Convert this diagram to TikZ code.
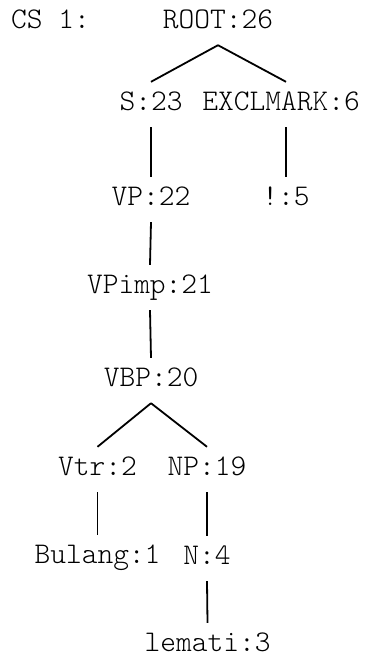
\documentclass[tikz,border=0pt]{standalone}
\usepackage{fontspec}
\newfontfamily\treefont{Latin Modern Mono Light}

\begin{document}
\begin{tikzpicture}[x=1pt, y=-1pt,
    lbl/.style={font=\treefont\fontsize{30}{30}\selectfont, anchor=base,
      text height=15pt, text depth=4pt, inner xsep=0pt, inner ysep=13pt},
    edge/.style={line width=1.8pt}]
  \useasboundingbox (0,0) rectangle (367,657);
  \node[lbl, anchor=base west] (cs) at (11,28) {CS 1:};
  % tree labels
  \node[lbl] (root)   at (218,28)   {ROOT:26};
  \node[lbl] (s)      at (151,110)  {S:23};
  \node[lbl] (excl)   at (281,110)  {EXCLMARK:6};
  \node[lbl] (vp)     at (151,205)  {VP:22};
  \node[lbl] (bang)   at (286,205)  {!:5};
  \node[lbl] (vpimp)  at (150,293)  {VPimp:21};
  \node[lbl] (vbp)    at (151,386)  {VBP:20};
  \node[lbl] (vtr)    at (97.5,475) {Vtr:2};
  \node[lbl] (np)     at (207,475)  {NP:19};
  \node[lbl] (bulang) at (97.5,563) {Bulang:1};
  \node[lbl] (n)      at (207,564)  {N:4};
  \node[lbl] (lemati) at (207.5,651) {lemati:3};
  % branches
  \draw[edge] (root.south) -- (s.north);
  \draw[edge] (root.south) -- (excl.north -| bang.center);
  \draw[edge] (s.south) -- (vp.north);
  \draw[edge] (excl.south -| bang.center) -- (bang.north);
  \draw[edge] (vp.south) -- (vpimp.north);
  \draw[edge] (vpimp.south) -- (vbp.north);
  \draw[edge] (vbp.south) -- (vtr.north);
  \draw[edge] (vbp.south) -- (np.north);
  \draw[edge] (vtr.south) -- (bulang.north);
  \draw[edge] (np.south) -- (n.north);
  \draw[edge] (n.south) -- (lemati.north);
\end{tikzpicture}
\end{document}
